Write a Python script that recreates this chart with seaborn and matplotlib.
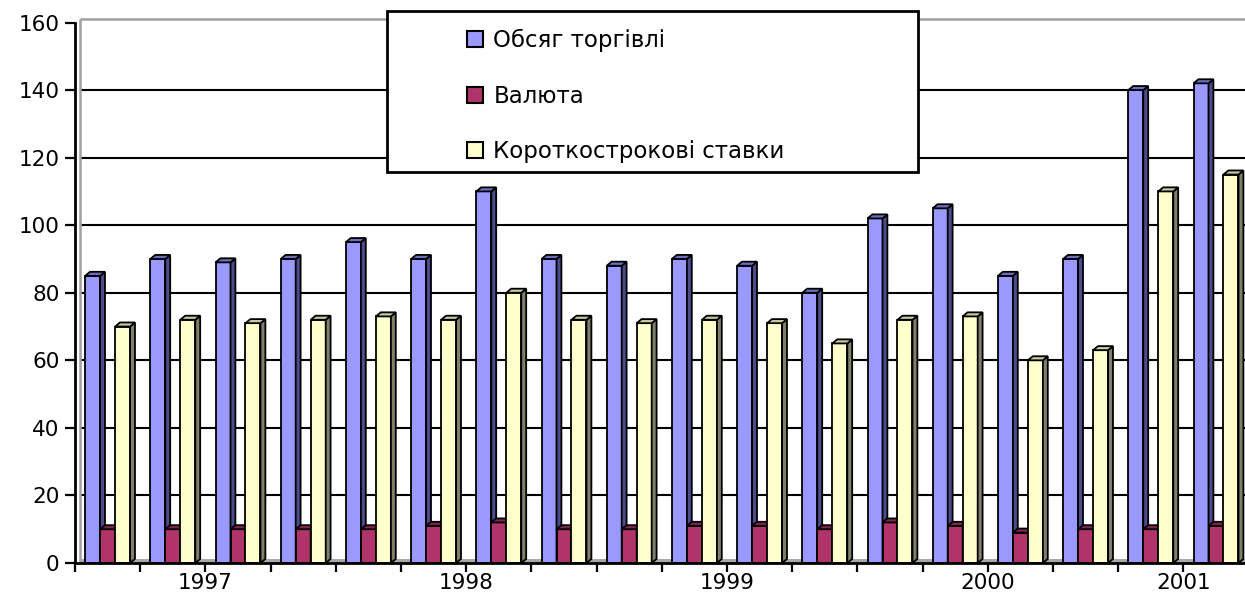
import numpy as np
import pandas as pd
import matplotlib
matplotlib.use("Agg")
import matplotlib.pyplot as plt
from matplotlib.patches import Polygon, Rectangle, Patch
import seaborn as sns

# ---------------- data ----------------
periods = [f"P{i+1}" for i in range(18)]
trade_volume = [85, 90, 89, 90, 95, 90, 110, 90, 88, 90, 88, 80, 102, 105, 85, 90, 140, 142]
currency = [10, 10, 10, 10, 10, 11, 12, 10, 10, 11, 11, 10, 12, 11, 9, 10, 10, 11]
short_rates = [70, 72, 71, 72, 73, 72, 80, 72, 71, 72, 71, 65, 72, 73, 60, 63, 110, 115]
series_names = ["Обсяг торгівлі", "Валюта", "Короткострокові ставки"]
year_labels = ["1997", "1998", "1999", "2000", "2001"]
year_label_boundaries = [2, 6, 10, 14, 17]   # category boundary index under each year label
yticks = [0, 20, 40, 60, 80, 100, 120, 140, 160]

front_colors = ["#9999FF", "#B0336A", "#FFFFCC"]
cap_colors = ["#6E6EC0", "#7E2550", "#C8C8A0"]
side_colors = ["#4C4C8C", "#5E1B3C", "#80806A"]

df = pd.DataFrame({
    "period": periods * 3,
    "series": np.repeat(series_names, len(periods)),
    "value": trade_volume + currency + short_rates,
})

# ---------------- figure ----------------
W, H = 1245, 598
sns.set_style("white")
plt.rcParams["font.family"] = ["DejaVu Sans"]
plt.rcParams["text.color"] = "black"
plt.rcParams["xtick.color"] = "black"
plt.rcParams["ytick.color"] = "black"
plt.rcParams["xtick.labelcolor"] = "black"
plt.rcParams["ytick.labelcolor"] = "black"
fig = plt.figure(figsize=(W / 100, H / 100), dpi=100)

y0_px, px_per_unit = 563, 3.378
ymax = 161.5
ax_left_px, ax_right_px = 75, 75 + 18 * 65.2
ax = fig.add_axes([ax_left_px / W, (H - y0_px) / H,
                   (ax_right_px - ax_left_px) / W, ymax * px_per_unit / H])

sns.barplot(data=df, x="period", y="value", hue="series", order=periods,
            hue_order=series_names, palette=front_colors, saturation=1,
            width=0.69, errorbar=None, edgecolor="black", linewidth=1.3,
            legend=False, ax=ax)

ax.set_xlim(-0.5, len(periods) - 0.5)
ax.set_ylim(0, ymax)

# 3D look: caps and right side faces
dx, dy = 0.075, 1.2
for k, cont in enumerate(ax.containers):
    for bar in cont:
        bar.set_zorder(3 + k)
        x0, w, h = bar.get_x(), bar.get_width(), bar.get_height()
        side = Polygon([(x0 + w, 0), (x0 + w + dx, dy), (x0 + w + dx, h + dy), (x0 + w, h)],
                       closed=True, facecolor=side_colors[k], edgecolor="black",
                       linewidth=1.3, zorder=3 + k + 0.1)
        cap = Polygon([(x0, h), (x0 + w, h), (x0 + w + dx, h + dy), (x0 + dx, h + dy)],
                      closed=True, facecolor=cap_colors[k], edgecolor="black",
                      linewidth=1.3, zorder=3 + k + 0.1)
        ax.add_patch(side)
        ax.add_patch(cap)

# back wall, floor, gridlines
wall_x = -0.5 + 0.07
ax.hlines(yticks[1:-1], wall_x, len(periods) - 0.5, color="black", lw=1.5, zorder=1)
ax.hlines([160.9], wall_x, len(periods) - 0.5, color="#A0A0A0", lw=1.8, zorder=1)
ax.vlines([wall_x], 0, 160.9, color="#A0A0A0", lw=1.8, zorder=1)
ax.fill_between([wall_x, len(periods) - 0.5], 0, 1.1, color="#A8A8A8", zorder=2, lw=0)

# spines
for s in ["top", "right"]:
    ax.spines[s].set_visible(False)
ax.spines["left"].set_bounds(0, 160)
for s in ["left", "bottom"]:
    ax.spines[s].set_linewidth(2)
    ax.spines[s].set_color("black")
    ax.spines[s].set_zorder(10)

ax.set_yticks(yticks)
ax.set_yticklabels([str(v) for v in yticks])
ax.tick_params(axis="y", direction="out", length=7, width=1.6, color="black",
               labelcolor="black", labelsize=15.5, pad=4, left=True)

major = [b - 0.5 for b in year_label_boundaries]
minor = [b - 0.5 for b in range(len(periods) + 1) if b not in year_label_boundaries]
ax.set_xticks(major)
ax.set_xticklabels(year_labels)
ax.set_xticks(minor, minor=True)
ax.tick_params(axis="x", which="both", direction="out", length=6.5, width=1.6,
               color="black", labelcolor="black", labelsize=15.5, pad=1, bottom=True)
ax.set_xlabel("")
ax.set_ylabel("")
ax.grid(False)

# legend box and entries
rect = Rectangle((387 / W, (H - 172) / H), 531 / W, 161 / H, transform=fig.transFigure,
                 facecolor="white", edgecolor="black", linewidth=2, zorder=20)
fig.add_artist(rect)
handles = [Patch(facecolor=c, edgecolor="black", linewidth=1.5) for c in front_colors]
leg = fig.legend(handles, series_names, loc="upper left",
                 bbox_to_anchor=(467 / W, 1 - 29 / H), bbox_transform=fig.transFigure,
                 frameon=False, fontsize=16.5, handlelength=0.7, handleheight=0.7,
                 handletextpad=0.45, labelspacing=1.42, borderpad=0, borderaxespad=0)
for t in leg.get_texts():
    t.set_color("black")
leg.set_zorder(21)

fig.savefig("out.png", dpi=100)
